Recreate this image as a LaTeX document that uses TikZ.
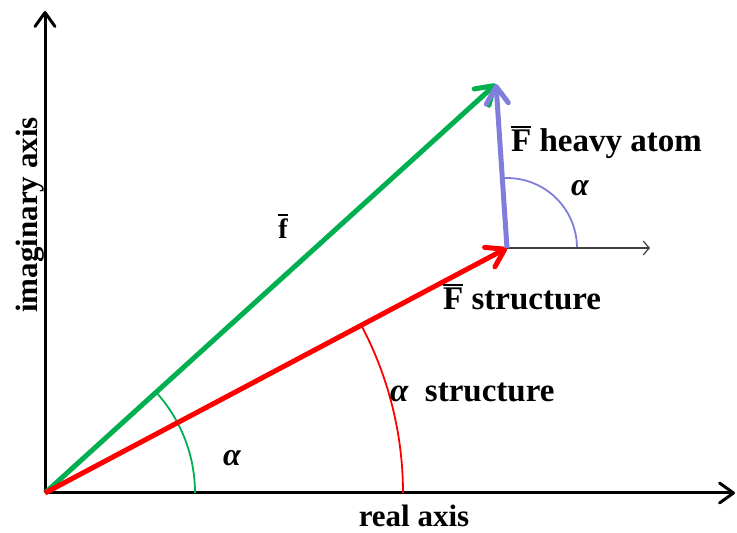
\documentclass[tikz,border=0pt]{standalone}
\usepackage{fontspec}
\setmainfont{Liberation Serif}
\usetikzlibrary{arrows.meta,positioning,calc}
\definecolor{vecGreen}{HTML}{00B050}
\definecolor{vecRed}{HTML}{FF0000}
\definecolor{vecBlue}{HTML}{7F7FDB}
\definecolor{refGray}{HTML}{404040}
\tikzset{
    % Axes - thick black with open head
    axis/.style={
        line width=3pt,
        -{Straight Barb[length=14pt, width=20pt, line width=3pt, round]},
    },
    % Structure factor vectors
    vector/.style={
        line width=5pt,
        -{Straight Barb[length=17pt, width=22pt, line width=5pt, round]},
    },
    % Thin reference direction
    ref arrow/.style={
        line width=1.2pt,
        draw=refGray,
        -{Straight Barb[length=6pt, width=14pt, line width=1.2pt]},
    },
    % Angle arcs
    angle arc/.style={
        line width=1.8pt,
    },
    % Labels
    axis label/.style={
        font=\fontsize{31}{33}\selectfont\bfseries,
        inner sep=0pt,
    },
    vec label/.style={
        font=\fontsize{33}{35}\selectfont\bfseries,
        anchor=base west,
        inner sep=0pt,
    },
    angle label/.style={
        font=\fontsize{32}{34}\selectfont\bfseries\itshape,
        inner sep=0pt,
    },
}
\newcommand\barred[1]{\vbox{\hrule height 2.4pt\kern 2pt\hbox{#1}}}

\begin{document}
\begin{tikzpicture}[x=1pt, y=1pt]
    \useasboundingbox (0,0) rectangle (737,533);

    \coordinate (O) at (45,40);
    \coordinate (ytop) at (45,522);
    \coordinate (xend) at (735,40);
    \coordinate (Fstruct) at (507,285);
    \coordinate (Ftot) at (496,449);
    \coordinate (Fref) at (650,285);

    % axes
    \draw [axis] (O) -- (ytop);
    \draw [axis] (O) -- (xend);

    % angle arcs
    \draw [angle arc, vecGreen] ($(O)+(150,0)$) arc[start angle=0, end angle=42.2, radius=150];
    \draw [angle arc, vecRed] ($(O)+(358,0)$) arc[start angle=0, end angle=27.9, radius=358];
    \draw [angle arc, vecBlue] ($(Fstruct)+(70,0)$) arc[start angle=0, end angle=94.2, radius=70];

    % vectors
    \draw [ref arrow] (Fstruct) -- (Fref);
    \draw [vector, vecGreen] (O) -- (Ftot);
    \draw [vector, vecRed] (O) -- (Fstruct);
    \draw [vector, vecBlue] (Fstruct) -- (Ftot);

    % labels
    \node (heavy) [vec label] at (511,381) {\barred{F} heavy atom};
    \node (struct) [vec label] at (443,223) {\barred{F} structure};
    \node (alphaStruct) [vec label] at (390,131) {\itshape α\upshape\ \ structure};
    \node (fbar) [font=\fontsize{28}{30}\selectfont\bfseries, inner sep=0pt] at (283,307) {\barred{f}};
    \node (alphaHeavy) [angle label] at (580,345) {α};
    \node (alphaTot) [angle label] at (232,75) {α};
    \node (realAx) [axis label, anchor=base] at (414,6) {real axis};
    \node (imagAx) [axis label, rotate=90, anchor=base] at (37,318) {imaginary axis};
\end{tikzpicture}
\end{document}
